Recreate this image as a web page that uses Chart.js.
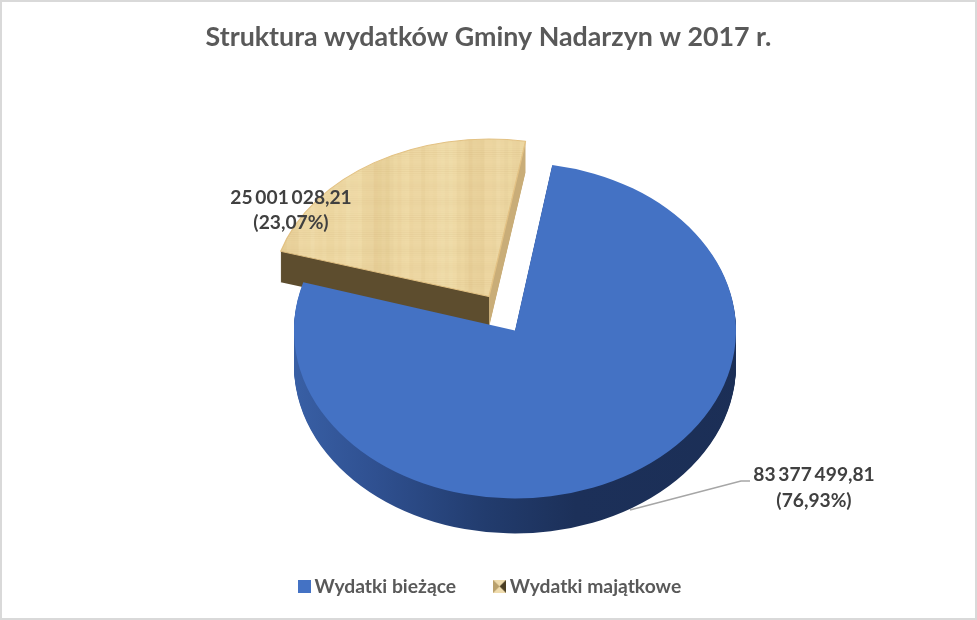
<!DOCTYPE html>
<html><head><meta charset="utf-8">
<style>html,body{margin:0;padding:0;background:#fff;overflow:hidden}#w{width:977px;height:620px;position:relative}</style>
<script src="https://cdn.jsdelivr.net/npm/chart.js@4"></script>
</head><body><div id="w"><canvas id="c"></canvas></div>
<script>
const categories = ['Wydatki bieżące', 'Wydatki majątkowe'];
const values = [83377499.81, 25001028.21];
const valueLabels = ['83 377 499,81', '25 001 028,21'];
const percentLabels = ['(76,93%)', '(23,07%)'];
const titleText = 'Struktura wydatków Gminy Nadarzyn w 2017 r.';
const sliceOffset = [0, 150];
// screen placement of the tilted pie, per slice
const view = [
  {x:515, y:330.5, r:221, squash:.76, depth:35},
  {x:515, y:327, r:217, squash:.725, depth:31}
];

function woodPattern(){
  const c = document.createElement('canvas'); c.width = 320; c.height = 320;
  const g = c.getContext('2d');
  g.fillStyle = '#eed8a3'; g.fillRect(0,0,320,320);
  for(let x=0;x<320;x+=3){
    const a = Math.sin(x*.13)*Math.sin(x*.047+1)+.35*Math.sin(x*.71);
    g.fillStyle = a>0 ? `rgba(205,170,105,${(a*.16).toFixed(3)})` : `rgba(252,240,200,${(-a*.22).toFixed(3)})`;
    g.fillRect(x,0,3,320);
  }
  for(let y=0;y<320;y+=2){
    const b=.07+.05*Math.sin(y*.37);
    g.fillStyle=`rgba(190,155,95,${b.toFixed(3)})`; g.fillRect(0,y,320,1);
  }
  return c;
}
const wood = woodPattern();
function swatch(kind){
  const c = document.createElement('canvas'); c.width = 13; c.height = 13;
  const g = c.getContext('2d');
  if(kind===0){ g.fillStyle='#4472c4'; g.fillRect(0,0,13,13); return c; }
  g.fillStyle='#efdcae'; g.fillRect(0,0,13,13);
  g.fillStyle='#b9a06c';
  g.beginPath(); g.moveTo(0,0); g.lineTo(6.5,6.5); g.lineTo(0,13); g.fill();
  g.fillStyle='#4a3d22';
  g.beginPath(); g.moveTo(13,0); g.lineTo(6.5,6.5); g.lineTo(13,13); g.fill();
  return c;
}
const ctx0 = document.getElementById('c').getContext('2d');
const woodFill = ctx0.createPattern(wood,'repeat');

const pie3d = {
  id:'pie3d',
  afterLayout(chart){
    const l = chart.legend;
    l.left += 4; l.right += 4; l.top -= 14; l.bottom -= 14;
  },
  beforeDatasetDraw(chart,args){
    const ctx = chart.ctx, arcs = args.meta.data;
    [1,0].forEach(i=>{
      const a = arcs[i], v = view[i], orig = a.options;
      const R = a.outerRadius, k = v.r/R;
      const place = dy=>{
        ctx.translate(v.x, v.y+dy); ctx.scale(k,k*v.squash); ctx.translate(-a.x,-a.y);
      };
      const x0=a.x-R-60, x1=a.x+R+60;
      const g = ctx.createLinearGradient(x0,0,x1,0);
      if(i===0){
        g.addColorStop(.08,'#3c65ad'); g.addColorStop(.27,'#2f5090'); g.addColorStop(.45,'#223c6e');
        g.addColorStop(.6,'#1c3059'); g.addColorStop(1,'#1b2e55');
      } else {
        // the arc moves itself by its offset before filling, so its tip sits at the arc centre
        g.addColorStop(0,'#5d4d2e'); g.addColorStop(.5,'#5d4d2e');
        g.addColorStop(.5,'#c9ad78'); g.addColorStop(1,'#c9ad78');
      }
      a.options = Object.assign({},orig,{backgroundColor:g,borderWidth:0});
      for(let d=v.depth;d>=1;d--){ ctx.save(); place(d); a.draw(ctx); ctx.restore(); }
      a.options = orig;
      ctx.save(); place(0); a.draw(ctx); ctx.restore();
    });
    return false;
  },
  afterDraw(chart){
    const ctx = chart.ctx;
    ctx.save();
    ctx.strokeStyle='#a6a6a6'; ctx.lineWidth=1.5;
    ctx.beginPath(); ctx.moveTo(630,510); ctx.lineTo(741,481); ctx.lineTo(750,481); ctx.stroke();
    ctx.fillStyle='#404040'; ctx.font='bold 19.2px Lato'; ctx.textAlign='center'; ctx.textBaseline='middle';
    ctx.wordSpacing='-1.8px';
    ctx.fillText(valueLabels[0],814,475); ctx.fillText(percentLabels[0],814,501);
    ctx.fillText(valueLabels[1],291,198); ctx.fillText(percentLabels[1],291,223);
    ctx.strokeStyle='#d9d9d9'; ctx.lineWidth=2;
    ctx.strokeRect(1,1,975,618);
    ctx.restore();
  }
};

new Chart(ctx0,{
  type:'pie',
  data:{labels:categories,datasets:[{data:values,backgroundColor:['#4472c4',woodFill],borderWidth:[0,1],borderColor:['#4472c4','#e3c284'],offset:sliceOffset}]},
  options:{
    responsive:true,maintainAspectRatio:false,animation:false,rotation:9.7,
    layout:{padding:0},
    plugins:{
      tooltip:{enabled:false},
      title:{display:true,text:titleText,color:'#595959',font:{family:'Lato',size:26.8,weight:'bold'},padding:{top:21,bottom:14}},
      legend:{position:'bottom',
        labels:{color:'#595959',font:{family:'Lato',size:19.3,weight:'bold'},usePointStyle:true,pointStyleWidth:1,padding:43,
          generateLabels:()=>categories.map((t,i)=>({text:t,fontColor:'#595959',pointStyle:swatch(i),fillStyle:'#fff',strokeStyle:'#fff',lineWidth:0,hidden:false,index:i}))}}
    }
  },
  plugins:[pie3d]
});
</script></body></html>
